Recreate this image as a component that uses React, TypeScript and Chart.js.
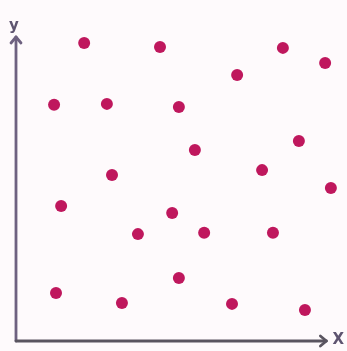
import React, { useEffect, useRef } from "react";
import { Chart, registerables } from "chart.js";

Chart.register(...registerables);

const xValues = [2.13, 4.5, 8.34, 9.66, 6.91, 1.19, 2.84, 5.09, 8.84, 5.59, 7.69, 3.0, 9.84, 1.41, 4.88, 3.81, 5.88, 8.03, 5.09, 1.25, 3.31, 6.75, 9.03];
const yValues = [9.31, 9.19, 9.16, 8.69, 8.31, 7.38, 7.41, 7.31, 6.25, 5.97, 5.34, 5.19, 4.78, 4.22, 4.0, 3.34, 3.38, 3.38, 1.97, 1.5, 1.19, 1.16, 0.97];
const xAxisLabel = "X";
const yAxisLabel = "y";
const xAxisEnd = 9.7;
const yAxisEnd = 9.5;

const axesPlugin = {
  id: "arrowAxes",
  afterDraw(chart: any) {
    const { ctx, scales } = chart;
    const x0 = scales.x.getPixelForValue(0);
    const y0 = scales.y.getPixelForValue(0);
    const xEnd = scales.x.getPixelForValue(xAxisEnd);
    const yEnd = scales.y.getPixelForValue(yAxisEnd);
    ctx.save();
    ctx.lineCap = "round";
    ctx.lineJoin = "round";
    // vertical axis
    ctx.strokeStyle = "#6e6180";
    ctx.lineWidth = 2.8;
    ctx.beginPath();
    ctx.moveTo(x0, y0);
    ctx.lineTo(x0, yEnd);
    ctx.stroke();
    ctx.beginPath();
    ctx.moveTo(x0 - 5, yEnd + 6);
    ctx.lineTo(x0, yEnd);
    ctx.lineTo(x0 + 5, yEnd + 6);
    ctx.stroke();
    // horizontal axis
    ctx.strokeStyle = "#5a5560";
    ctx.beginPath();
    ctx.moveTo(x0, y0);
    ctx.lineTo(xEnd, y0);
    ctx.stroke();
    ctx.beginPath();
    ctx.moveTo(xEnd - 6, y0 - 5);
    ctx.lineTo(xEnd, y0);
    ctx.lineTo(xEnd - 6, y0 + 5);
    ctx.stroke();
    // labels
    ctx.fillStyle = "#5e5470";
    ctx.font = "bold 15px 'DejaVu Sans', sans-serif";
    ctx.textAlign = "center";
    ctx.textBaseline = "middle";
    ctx.fillText(yAxisLabel, x0 - 2, yEnd - 11);
    ctx.fillText(xAxisLabel, xEnd + 12, y0 - 1);
    ctx.restore();
  },
};

export default function App() {
  const ref = useRef<HTMLCanvasElement | null>(null);
  useEffect(() => {
    if (!ref.current) return;
    const chart = new Chart(ref.current, {
      type: "scatter",
      data: {
        datasets: [
          {
            data: xValues.map((x, i) => ({ x, y: yValues[i] })),
            backgroundColor: "#bf175d",
            borderColor: "#bf175d",
            pointRadius: 6,
            borderWidth: 0,
            clip: false as any,
          },
        ],
      },
      options: {
        responsive: false,
        animation: false,
        layout: { padding: { left: 16, right: 11, top: 21, bottom: 10 } },
        plugins: { legend: { display: false }, tooltip: { enabled: false } },
        scales: {
          x: { type: "linear", min: 0, max: 10, display: false },
          y: { type: "linear", min: 0, max: 10, display: false },
        },
      },
      plugins: [axesPlugin],
    });
    return () => chart.destroy();
  }, []);
  return (
    <div style={{ position: "absolute", left: 0, top: 0, width: 347, height: 351, background: "#fefafc" }}>
      <canvas ref={ref} width={347} height={351} />
    </div>
  );
}
